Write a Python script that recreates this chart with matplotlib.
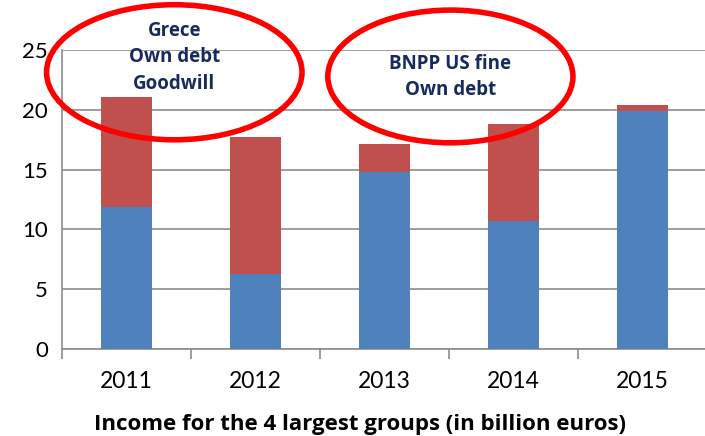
import matplotlib.pyplot as plt
from matplotlib.patches import Ellipse
import numpy as np

# Data (billion euros)
years = ["2011", "2012", "2013", "2014", "2015"]
base_income = [11.9, 6.3, 14.8, 10.7, 19.95]
extra_income = [9.2, 11.45, 2.35, 8.15, 0.45]

y_ticks = [0, 5, 10, 15, 20, 25]
note_left = "Grece\nOwn debt\nGoodwill"
note_right = "BNPP US fine\nOwn debt"

plt.rcParams['font.family'] = ['Lato', 'DejaVu Sans']

fig = plt.figure(figsize=(7.05, 4.36), dpi=100)
ax = fig.add_axes([0.088, 0.1995, 0.915, 0.6855])

x = np.arange(len(years))
ax.bar(x, base_income, width=0.4, color='#4F81BD', zorder=3)
ax.bar(x, extra_income, width=0.4, bottom=base_income, color='#C0504D', zorder=3)

ax.set_xlim(-0.5, 4.5)
ax.set_ylim(0, 25)
ax.set_yticks(y_ticks)
ax.yaxis.grid(True, color='#8C8C8C', linewidth=1.2, zorder=0)
ax.tick_params(axis='y', length=0, labelsize=16, pad=10)

ax.set_xticks(x)
ax.set_xticklabels(years)
ax.set_xticks(np.arange(-0.5, 4.6, 1), minor=True)
ax.tick_params(axis='x', which='major', length=0, labelsize=16.5, pad=16)
ax.tick_params(axis='x', which='minor', length=7, color='#8C8C8C', width=1.2)

for side in ['top', 'right']:
    ax.spines[side].set_visible(False)
for side in ['left', 'bottom']:
    ax.spines[side].set_color('#8C8C8C')
    ax.spines[side].set_linewidth(1.2)

ax.set_xlabel("Income for the 4 largest groups (in billion euros)",
              fontsize=16, fontweight='bold', family=['Open Sans', 'DejaVu Sans'],
              labelpad=16)
ax.xaxis.label.set_x(0.462)

# red ellipse annotations
ax.add_patch(Ellipse((0.37, 23.15), 1.98, 11.3, fill=False, edgecolor='#FF0000',
                     linewidth=4, clip_on=False, zorder=5))
ax.add_patch(Ellipse((2.51, 22.8), 1.9, 11.1, fill=False, edgecolor='#FF0000',
                     linewidth=4, clip_on=False, zorder=5))
ax.text(0.37, 24.4, note_left, ha='center', va='center', fontsize=13.5,
        fontweight='bold', family=['Open Sans', 'DejaVu Sans'],
        color='#172A5E', linespacing=1.45, zorder=6)
ax.text(2.51, 22.75, note_right, ha='center', va='center', fontsize=13.5,
        fontweight='bold', family=['Open Sans', 'DejaVu Sans'],
        color='#172A5E', linespacing=1.45, zorder=6)

fig.savefig("out.png", dpi=100)
